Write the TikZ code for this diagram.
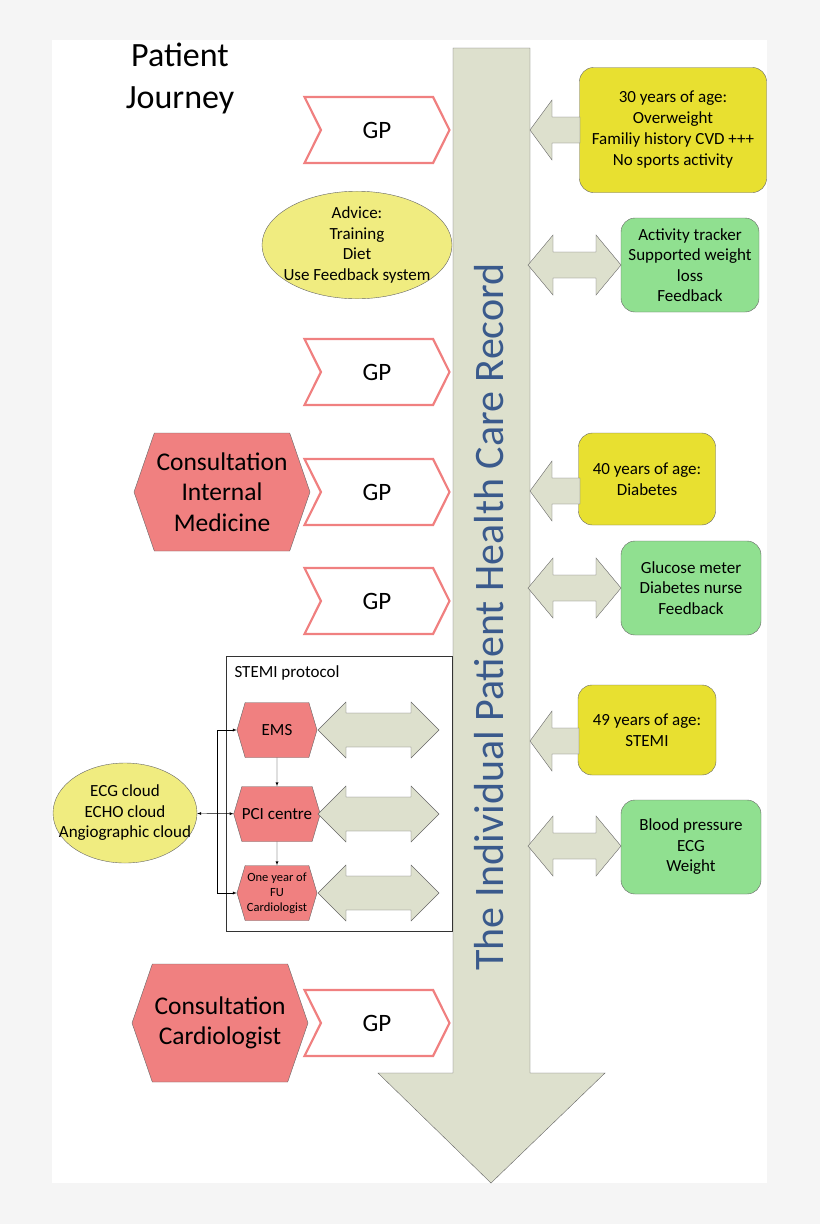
\documentclass[tikz,border=0pt]{standalone}
\usepackage{fontspec}
\setmainfont{Carlito}
\usetikzlibrary{shapes.symbols,shapes.geometric}
\definecolor{shaft}{HTML}{DDE0CD}
\definecolor{visit}{HTML}{F08080}
\definecolor{ageyel}{HTML}{E8E030}
\definecolor{advyel}{HTML}{F0EC80}
\definecolor{devgrn}{HTML}{90E090}
\definecolor{recblue}{HTML}{3A5A8C}
\tikzset{
  gp/.style={shape=signal, signal to=east, signal from=west, signal pointer angle=127,
    draw=visit, line width=2.2pt, fill=white, minimum width=145pt, minimum height=66pt,
    inner sep=0pt, font=\fontsize{25}{28}\selectfont},
  consult/.style={shape=signal, signal to=east and west, signal pointer angle=142,
    draw=black!60, fill=visit, minimum width=176pt, minimum height=118pt,
    inner sep=0pt, align=center, font=\fontsize{25.5}{30.5}\selectfont},
  stage/.style={shape=signal, signal to=east and west, signal pointer angle=147,
    draw=black!60, fill=visit, minimum width=80pt, minimum height=55pt,
    inner sep=0pt, align=center, font=\fontsize{17}{19}\selectfont},
  age/.style={draw=black!60, fill=ageyel, rounded corners=14pt, align=center,
    font=\fontsize{17}{21}\selectfont},
  device/.style={draw=black!60, fill=devgrn, rounded corners=14pt, align=center,
    font=\fontsize{17}{20.5}\selectfont},
  advice/.style={ellipse, draw=black!60, fill=advyel, align=center, inner ysep=0pt,
    font=\fontsize{17}{20.5}\selectfont},
  big/.style={draw=black!60, fill=shaft},
  link/.style={-latex, black, thin}
}
% double-headed block arrow: left x, right x, centre y, half height, shaft half height, head length
\newcommand\dblarrow[6]{%
  \draw[big] (#1,#3) -- (#1+#6,#3-#4) -- (#1+#6,#3-#5) -- (#2-#6,#3-#5) -- (#2-#6,#3-#4)
    -- (#2,#3) -- (#2-#6,#3+#4) -- (#2-#6,#3+#5) -- (#1+#6,#3+#5) -- (#1+#6,#3+#4) -- cycle;}
% single block arrow pointing left
\newcommand\leftarrowblk[3]{%
  \draw[big] (#1,#3) -- (#1+22,#3-30) -- (#1+22,#3-13) -- (#2,#3-13) -- (#2,#3+13)
    -- (#1+22,#3+13) -- (#1+22,#3+30) -- cycle;}
\begin{document}
\begin{tikzpicture}[x=1pt, y=-1pt]
\fill[black!4] (0,0) rectangle (820,1224);
\fill[white] (52,40) rectangle (767,1183);
\useasboundingbox (0,0) rectangle (820,1224);

% record arrow
\draw[big] (453,48) -- (530,48) -- (530,1073) -- (605,1073) -- (491,1183)
  -- (378,1073) -- (453,1073) -- cycle;
\node[rotate=90, text=recblue, font=\fontsize{42}{46}\selectfont] (record) at (489,617)
  {The Individual Patient Health Care Record};

\node[font=\fontsize{34}{42}\selectfont, align=center] (title) at (180,78) {Patient\\Journey};

% GP visits
\foreach \y [count=\i] in {130,372,492,601,1023}
  \node[gp] (gp\i) at (377,\y) {GP};

\node[advice, minimum width=190pt, minimum height=104pt, inner xsep=-7pt] (advice) at (357,245)
  {Advice:\\Training\\Diet\\Use Feedback system};

\node[consult] (internal) at (222,492) {Consultation\\Internal\\Medicine};
\node[consult] (cardio) at (220,1023) {Consultation\\Cardiologist};

% right side
\node[age, minimum width=187pt, minimum height=125pt] (age30) at (673,130)
  {30 years of age:\\Overweight\\Familiy history CVD +++\\No sports activity};
\node[age, minimum width=137pt, minimum height=92pt] (age40) at (647,479)
  {40 years of age:\\Diabetes};
\node[age, minimum width=138pt, minimum height=90pt] (age49) at (647,730)
  {49 years of age:\\STEMI};
\node[device, minimum width=138pt, minimum height=94pt, inner sep=0pt] (tracker) at (690,265)
  {Activity tracker\\Supported weight\\loss\\Feedback};
\node[device, minimum width=140pt, minimum height=94pt] (glucose) at (691,588)
  {Glucose meter\\Diabetes nurse\\Feedback};
\node[device, minimum width=140pt, minimum height=94pt] (bp) at (691,847)
  {Blood pressure\\ECG\\Weight};

\leftarrowblk{530}{580}{130}
\leftarrowblk{530}{580}{491}
\leftarrowblk{530}{579}{741}
\dblarrow{528}{621}{265}{30}{13}{25}
\dblarrow{528}{621}{588}{30}{13}{25}
\dblarrow{528}{621}{846}{30}{13}{25}

% STEMI protocol
\draw[black!80] (226,656) rectangle (452,931);
\node[anchor=west, font=\fontsize{17}{19}\selectfont] (stemi) at (231,673) {STEMI protocol};
\node[stage] (ems) at (277,730) {EMS};
\node[stage] (pci) at (277,814) {PCI centre};
\node[stage, font=\fontsize{12.5}{15}\selectfont] (fu) at (277,893) {One year of\\FU\\Cardiologist};
\foreach \y in {730,814,893}
  {\dblarrow{318}{439}{\y}{28}{17}{28}}

\node[advice, minimum width=144pt, minimum height=100pt, inner xsep=-16pt] (cloud) at (125,813)
  {ECG cloud\\ECHO cloud\\Angiographic cloud};

\draw[link] (ems) -- (pci);
\draw[link] (pci) -- (fu);
\coordinate (split) at (217,814);
\draw[latex-latex, thin] (cloud) -- (pci);
\draw[link] (split) |- (ems);
\draw[link] (split) |- (fu);
\end{tikzpicture}
\end{document}
